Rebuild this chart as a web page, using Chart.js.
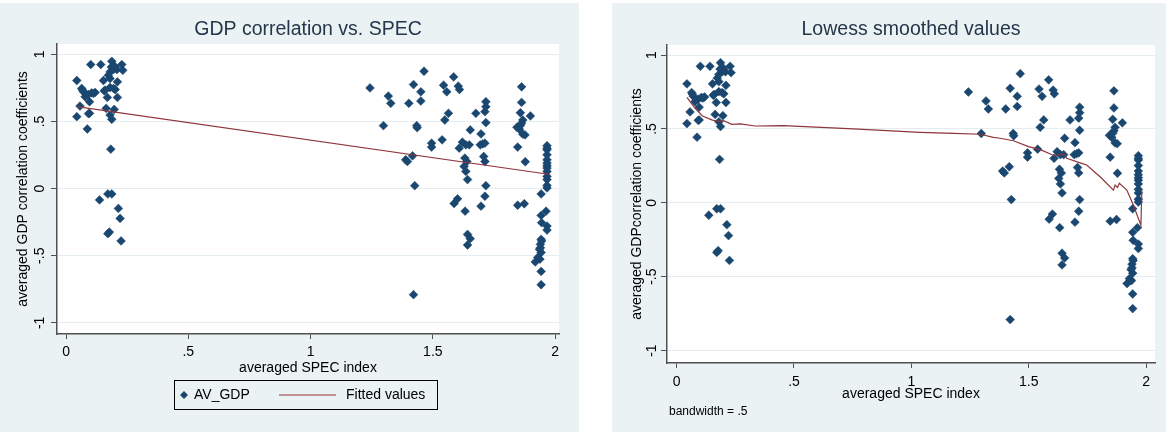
<!DOCTYPE html>
<html>
<head>
<meta charset="utf-8">
<script src="https://cdn.jsdelivr.net/npm/chart.js@4.4.1/dist/chart.umd.min.js"></script>
<style>
  body { margin: 0; background: #fff; width: 1169px; height: 434px; position: relative; overflow: hidden; }
  canvas { position: absolute; top: 3px; }
  #c1 { left: 0; }
  #c2 { left: 612px; }
</style>
</head>
<body>
<canvas id="c1" width="579" height="429"></canvas>
<canvas id="c2" width="554" height="429"></canvas>
<script>
// --- data ---
const specX = [
  0.044, 0.101, 0.142, 0.187, 0.228, 0.232, 0.208, 0.194, 0.180, 0.173, 0.180, 0.153, 0.210, 0.064, 0.071, 0.078, 0.091,
  0.105, 0.119, 0.096, 0.057, 0.044, 0.096, 0.087, 0.156, 0.169, 0.180, 0.201, 0.210, 0.164, 0.197, 0.180, 0.187, 0.183,
  0.137, 0.171, 0.187, 0.214, 0.221, 0.171, 0.177, 0.225, 0.112, 0.092, 0.194, 0.160, 0.067, 0.185, 0.200,
  1.243, 1.298, 1.318, 1.328, 1.421, 1.464, 1.451, 1.402, 1.451, 1.434, 1.436, 1.495, 1.495, 1.538, 1.544, 1.557, 1.585,
  1.604, 1.609, 1.564, 1.549, 1.389, 1.396, 1.417, 1.426, 1.421, 1.608, 1.621, 1.635, 1.649, 1.631, 1.639, 1.628, 1.635,
  1.642, 1.587, 1.601, 1.632, 1.642, 1.653, 1.642, 1.653, 1.676, 1.697, 1.694, 1.704, 1.713, 1.708, 1.713, 1.717, 1.717,
  1.713, 1.717, 1.717, 1.713, 1.697,
  1.863, 1.863, 1.858, 1.868, 1.863, 1.899, 1.844, 1.854, 1.868, 1.877, 1.847, 1.878, 1.847, 1.874, 1.858,
  1.967, 1.967, 1.967, 1.967, 1.967, 1.967, 1.967, 1.967, 1.967, 1.967, 1.967, 1.967, 1.967,
  1.943, 1.963, 1.943, 1.945, 1.967, 1.967, 1.943, 1.940, 1.936, 1.943, 1.929, 1.919, 1.938, 1.943, 1.943, 1.940, 1.945
];
const gdpY = [
  0.805, 0.924, 0.924, 0.948, 0.924, 0.881, 0.887, 0.887, 0.869, 0.844, 0.820, 0.805, 0.795, 0.746, 0.721, 0.684, 0.701,
  0.713, 0.716, 0.647, 0.615, 0.536, 0.561, 0.444, 0.728, 0.679, 0.753, 0.738, 0.679, 0.598, 0.590, 0.548, 0.516, 0.294,
  -0.084, -0.040, -0.040, -0.148, -0.222, -0.336, -0.324, -0.390, 0.709, 0.558, 0.746, 0.733, 0.735, 0.905, 0.910,
  0.750, 0.469, 0.689, 0.635, 0.775, 0.874, 0.721, 0.635, 0.652, 0.469, 0.454, 0.338, 0.309, 0.363, 0.770, 0.721, 0.832,
  0.763, 0.738, 0.561, 0.511, 0.215, 0.202, 0.244, 0.022, -0.790, 0.301, 0.346, 0.326, 0.326, 0.227, 0.202, 0.165, 0.128,
  0.067, -0.111, -0.076, -0.168, -0.341, -0.373, -0.420, 0.437, 0.561, 0.407, 0.326, 0.333, 0.338, 0.239, 0.202, 0.647, 0.610,
  0.573, 0.491, 0.022, -0.057, -0.131,
  0.758, 0.642, 0.565, 0.511, 0.487, 0.541, 0.457, 0.442, 0.405, 0.400, 0.309, 0.200, -0.124, -0.113, 0.470,
  0.319, 0.289, 0.252, 0.215, 0.190, 0.153, 0.128, 0.091, 0.067, 0.024, 0.005, 0.300, 0.170,
  -0.040, -0.168, -0.200, -0.254, -0.279, -0.309, -0.378, -0.415, -0.452, -0.476, -0.513, -0.546, -0.526, -0.617, -0.716, -0.440, -0.390
];
const fitX = [0.044, 1.98];
const fitY = [0.610, 0.105];
const lowessX = [0.044, 0.079, 0.110, 0.150, 0.178, 0.200, 0.235, 0.271, 0.335, 0.455, 0.753, 1.037, 1.179, 1.293, 1.350,
  1.378, 1.435, 1.499, 1.549, 1.612, 1.634, 1.655, 1.662, 1.726, 1.747, 1.804, 1.861, 1.868, 1.878, 1.886, 1.918, 1.946, 1.978, 1.982];
const lowessY = [0.714, 0.640, 0.588, 0.561, 0.549, 0.556, 0.531, 0.534, 0.520, 0.522, 0.500, 0.477, 0.470, 0.464, 0.443,
  0.437, 0.420, 0.380, 0.360, 0.317, 0.330, 0.325, 0.301, 0.267, 0.256, 0.176, 0.086, 0.120, 0.104, 0.132, 0.086, -0.016, -0.151, 0.086];
const xTicks = [0, 0.5, 1, 1.5, 2];
const xTickLabels = ['0', '.5', '1', '1.5', '2'];
const yTicks = [-1, -0.5, 0, 0.5, 1];
const yTickLabels = ['-1', '-.5', '0', '.5', '1'];

const BG = '#eaf2f3';
const NAVY = '#1a476f';
const MAROON = '#90353b';
const AXIS = '#505050';
const FONT = '"Liberation Sans", Arial, sans-serif';

function pts(xs, ys) { return xs.map((x, i) => ({ x: x, y: ys[i] })); }

function diamond(ctx, x, y, r) {
  ctx.beginPath();
  ctx.moveTo(x, y - r); ctx.lineTo(x + r, y); ctx.lineTo(x, y + r); ctx.lineTo(x - r, y);
  ctx.closePath(); ctx.fill();
}

// panel background, white plot region, rotated y labels, titles, legend
const decor = {
  id: 'decor',
  beforeDraw(chart, args, o) {
    const { ctx, chartArea: a, width, height } = chart;
    ctx.save();
    ctx.fillStyle = BG;
    ctx.fillRect(0, 0, width, height);
    ctx.fillStyle = '#fff';
    ctx.fillRect(a.left, a.top, a.right - a.left, a.bottom - a.top);
    ctx.restore();
  },
  afterDraw(chart, args, o) {
    const { ctx, chartArea: a } = chart;
    const ys = chart.scales.y;
    ctx.save();
    ctx.fillStyle = '#000';
    ctx.font = '14px ' + FONT;
    ctx.textAlign = 'center';
    ctx.textBaseline = 'middle';
    yTicks.forEach((v, i) => {
      ctx.save();
      ctx.translate(o.yLabelX, ys.getPixelForValue(v));
      ctx.rotate(-Math.PI / 2);
      ctx.fillText(yTickLabels[i], 0, 0);
      ctx.restore();
    });
    ctx.save();
    ctx.translate(o.yTitleX, (a.top + a.bottom) / 2);
    ctx.rotate(-Math.PI / 2);
    ctx.fillText(o.yTitle, 0, 0);
    ctx.restore();

    ctx.font = '19.5px ' + FONT;
    ctx.fillStyle = '#24364b';
    ctx.fillText(o.title, (a.left + a.right) / 2, o.titleY);

    if (o.legend) {
      const L = o.legend;
      ctx.strokeStyle = '#000';
      ctx.lineWidth = 1;
      ctx.strokeRect(L.x0 + 0.5, L.y0 + 0.5, L.x1 - L.x0, L.y1 - L.y0);
      const cy = (L.y0 + L.y1) / 2 + 0.5;
      ctx.fillStyle = NAVY;
      diamond(ctx, L.x0 + 10, cy, 4);
      ctx.fillStyle = '#000';
      ctx.font = '14px ' + FONT;
      ctx.textAlign = 'left';
      ctx.fillText('AV_GDP', L.x0 + 20, cy);
      ctx.strokeStyle = MAROON;
      ctx.lineWidth = 1.2;
      ctx.beginPath();
      ctx.moveTo(L.x0 + 105, cy); ctx.lineTo(L.x0 + 162, cy);
      ctx.stroke();
      ctx.fillText('Fitted values', L.x0 + 172, cy);
    }
    if (o.note) {
      ctx.fillStyle = '#000';
      ctx.font = '12px ' + FONT;
      ctx.textAlign = 'left';
      ctx.fillText(o.note, o.noteX, o.noteY);
    }
    ctx.restore();
  }
};

function makeChart(id, lineX, lineY, cfg) {
  return new Chart(document.getElementById(id), {
    type: 'scatter',
    data: {
      datasets: [
        {
          data: pts(specX, gdpY),
          order: 2,
          pointStyle: 'rectRot',
          pointRadius: 4.4,
          pointBackgroundColor: NAVY,
          pointBorderColor: NAVY,
          pointBorderWidth: 0.5
        },
        {
          type: 'line',
          data: pts(lineX, lineY),
          order: 1,
          borderColor: MAROON,
          borderWidth: 1.2,
          pointRadius: 0,
          fill: false,
          tension: 0
        }
      ]
    },
    options: {
      responsive: false,
      animation: false,
      events: [],
      layout: { padding: cfg.padding },
      plugins: {
        legend: { display: false },
        tooltip: { enabled: false },
        decor: cfg.decor
      },
      scales: {
        x: {
          type: 'linear',
          min: cfg.xMin, max: cfg.xMax,
          afterBuildTicks: s => { s.ticks = xTicks.map(v => ({ value: v })); },
          afterFit: s => { s.height = cfg.xHeight; },
          ticks: {
            padding: cfg.xTickPad,
            color: '#000',
            font: { family: FONT, size: 14 },
            maxRotation: 0,
            callback: (v, i) => xTickLabels[i]
          },
          grid: { drawOnChartArea: false, drawTicks: true, tickLength: 5, tickColor: AXIS, tickWidth: 1 },
          border: { display: true, color: AXIS, width: 1.5 },
          title: {
            display: true,
            text: 'averaged SPEC index',
            color: '#000',
            font: { family: FONT, size: 14 },
            padding: { top: 0, bottom: cfg.xTitlePad }
          }
        },
        y: {
          type: 'linear',
          min: cfg.yMin, max: cfg.yMax,
          afterBuildTicks: s => { s.ticks = yTicks.map(v => ({ value: v })); },
          afterFit: s => { s.width = cfg.yWidth; },
          ticks: { display: false },
          grid: { color: '#e4edef', lineWidth: 1, drawTicks: true, tickLength: 6, tickColor: AXIS, tickWidth: 1 },
          border: { display: true, color: AXIS, width: 1.5 }
        }
      }
    },
    plugins: [decor]
  });
}

makeChart('c1', fitX, fitY, {
  padding: { top: 41, right: 20, bottom: 53, left: 0 },
  xMin: -0.037, xMax: 2.016, yMin: -1.083, yMax: 1.077,
  yWidth: 57, xHeight: 45, xTickPad: 5, xTitlePad: 2,
  decor: {
    title: 'GDP correlation vs. SPEC', titleY: 27,
    yTitle: 'averaged GDP correlation coefficients', yTitleX: 23, yLabelX: 40,
    legend: { x0: 174, y0: 377, x1: 437, y1: 406 }
  }
});

makeChart('c2', lowessX, lowessY, {
  padding: { top: 42, right: 11, bottom: 26, left: 0 },
  xMin: -0.041, xMax: 2.038, yMin: -1.084, yMax: 1.068,
  yWidth: 55, xHeight: 43, xTickPad: 6, xTitlePad: 3,
  decor: {
    title: 'Lowess smoothed values', titleY: 27,
    yTitle: 'averaged GDPcorrelation coefficients', yTitleX: 25, yLabelX: 40,
    note: 'bandwidth = .5', noteX: 57, noteY: 409
  }
});
</script>
</body>
</html>
